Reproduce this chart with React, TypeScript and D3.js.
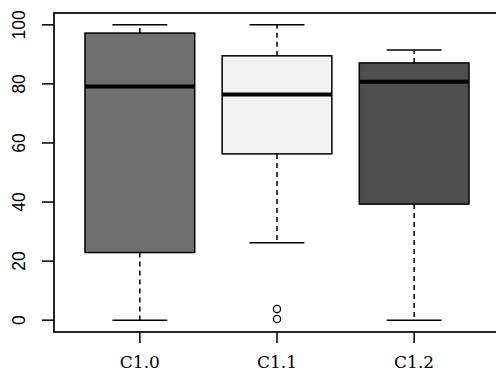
import React from "react";
import * as d3 from "d3";

const categories = ["C1.0", "C1.1", "C1.2"];
const mins = [0, 26.2, 0];
const q1s = [22.9, 56.3, 39.3];
const medians = [79.1, 76.4, 80.7];
const q3s = [97.2, 89.5, 87.1];
const maxs = [100, 100, 91.5];
const outliers: number[][] = [[], [3.8, 0.4], []];
const fills = ["#707070", "#f2f2f2", "#4e4e4e"];
const yTicks = [0, 20, 40, 60, 80, 100];

export default function App() {
  const W = 496, H = 372;
  const left = 54, top = 13, bottom = 332, right = 500;
  const y = d3.scaleLinear().domain([-4, 104]).range([bottom, top]);
  const x = d3.scaleLinear().domain([0.374, 3.626]).range([left, right]);
  const bw = 0.8, cw = 0.4;
  return (
    <svg width={W} height={H} style={{ position: "absolute", left: 0, top: 0, background: "#fff" }}>
      {categories.map((c, i) => {
        const cx = x(i + 1);
        const bx0 = x(i + 1 - bw / 2), bx1 = x(i + 1 + bw / 2);
        const cx0 = x(i + 1 - cw / 2), cx1 = x(i + 1 + cw / 2);
        return (
          <g key={c}>
            <line x1={cx} x2={cx} y1={y(q3s[i])} y2={y(maxs[i])} stroke="#000" strokeWidth={1.5} strokeDasharray="5,4" />
            <line x1={cx} x2={cx} y1={y(q1s[i])} y2={y(mins[i])} stroke="#000" strokeWidth={1.5} strokeDasharray="5,4" />
            <line x1={cx0} x2={cx1} y1={y(maxs[i])} y2={y(maxs[i])} stroke="#000" strokeWidth={1.5} />
            <line x1={cx0} x2={cx1} y1={y(mins[i])} y2={y(mins[i])} stroke="#000" strokeWidth={1.5} />
            <rect x={bx0} y={y(q3s[i])} width={bx1 - bx0} height={y(q1s[i]) - y(q3s[i])} fill={fills[i]} stroke="#000" strokeWidth={1.5} />
            <line x1={bx0} x2={bx1} y1={y(medians[i])} y2={y(medians[i])} stroke="#000" strokeWidth={4} />
            {outliers[i].map((o, j) => (
              <circle key={j} cx={cx} cy={y(o)} r={3.6} fill="none" stroke="#000" strokeWidth={1.3} />
            ))}
          </g>
        );
      })}
      <rect x={left} y={top} width={right - left} height={bottom - top} fill="none" stroke="#000" strokeWidth={1.7} />
      {yTicks.map((t) => (
        <g key={t}>
          <line x1={42} x2={left} y1={y(t)} y2={y(t)} stroke="#000" strokeWidth={1.5} />
          <text transform={`translate(25,${y(t)}) rotate(-90)`} textAnchor="middle" fontFamily="Liberation Sans, Arial, sans-serif" fontSize={17.5} fill="#000">{t}</text>
        </g>
      ))}
      {categories.map((c, i) => (
        <g key={c}>
          <line x1={x(i + 1)} x2={x(i + 1)} y1={bottom} y2={343} stroke="#000" strokeWidth={1.5} />
          <text x={x(i + 1)} y={368} textAnchor="middle" fontFamily="DejaVu Serif, serif" fontSize={17} fill="#000">{c}</text>
        </g>
      ))}
    </svg>
  );
}
